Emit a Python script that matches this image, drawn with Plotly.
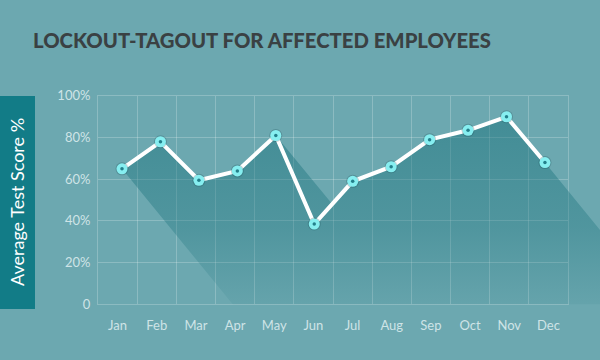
import numpy as np
import plotly.graph_objects as go

# ---------------- data ----------------
months = ["Jan", "Feb", "Mar", "Apr", "May", "Jun", "Jul", "Aug", "Sep", "Oct", "Nov", "Dec"]
scores = [65, 78, 59.5, 64, 81, 38.5, 59, 66, 79, 83.5, 90, 68]
y_tick_vals = [0, 20, 40, 60, 80, 100]
y_tick_text = ["0", "20%", "40%", "60%", "80%", "100%"]
title_text = "LOCKOUT-TAGOUT FOR AFFECTED EMPLOYEES"
y_title = "Average Test Score %"

# ---------------- geometry / style ----------------
W, H = 600, 360
PLOT_L, PLOT_R_GRID, PLOT_T, PLOT_B = 98, 568, 92, 310
FIRST_PX, STEP_PX = 122, 38.45          # placement of the data subplot's x axis
SHADOW_SLOPE = 1.28                      # long-shadow direction (px down per px right)

BG = "#6ca8b0"
GRID = "rgba(255,255,255,0.22)"
TICK_COLOR = "rgba(225,240,242,0.85)"
FONT = "Lato"

n = len(months)
ydom = [1 - PLOT_B / H, 1 - PLOT_T / H]

x2_lo = (PLOT_L - FIRST_PX) / STEP_PX
x2_hi = (W - FIRST_PX) / STEP_PX
y_lo, y_hi = 0, 100
ypx_per = (PLOT_B - PLOT_T) / (y_hi - y_lo)


def to_px(x, y):
    return FIRST_PX + np.asarray(x) * STEP_PX, PLOT_B - (np.asarray(y) - y_lo) * ypx_per


def to_data(px, py):
    return (np.asarray(px) - FIRST_PX) / STEP_PX, y_lo + (PLOT_B - np.asarray(py)) / ypx_per


# ---- long shadow: union of the polyline swept along the shadow direction ----
xi = np.arange(n, dtype=float)
px, py = to_px(xi, scores)
u = px - py / SHADOW_SLOPE
u_grid = np.union1d(np.linspace(u.min(), u.max(), 1500), u)
v_env = np.full(u_grid.shape, np.inf)
for k in range(n - 1):
    u0, u1, v0, v1 = u[k], u[k + 1], py[k], py[k + 1]
    lo, hi = min(u0, u1), max(u0, u1)
    m = (u_grid >= lo - 1e-9) & (u_grid <= hi + 1e-9)
    if hi - lo < 1e-9:
        v_env[m] = np.minimum(v_env[m], min(v0, v1))
    else:
        t = (u_grid[m] - u0) / (u1 - u0)
        v_env[m] = np.minimum(v_env[m], v0 + t * (v1 - v0))
env_px = u_grid + v_env / SHADOW_SLOPE
env_py = v_env
far = 400
poly_px = np.concatenate([[env_px[0] + far], env_px, [env_px[-1] + far]])
poly_py = np.concatenate([[env_py[0] + far * SHADOW_SLOPE], env_py, [env_py[-1] + far * SHADOW_SLOPE]])
sx, sy = to_data(poly_px, poly_py)

fig = go.Figure()

# invisible trace to anchor the grid subplot
fig.add_trace(go.Scatter(x=[0], y=[0], xaxis="x", yaxis="y", mode="markers",
                         marker=dict(size=1, opacity=0), showlegend=False, hoverinfo="skip"))

# shadow / area
fig.add_trace(go.Scatter(
    x=sx, y=sy, xaxis="x2", yaxis="y2", mode="lines", fill="toself",
    line=dict(width=0, color="rgba(0,0,0,0)"),
    fillgradient=dict(type="vertical", start=0, stop=100,
                      colorscale=[[0, "rgba(20,110,120,0.05)"],
                                  [0.4, "rgba(20,110,120,0.32)"],
                                  [1, "rgba(20,110,120,0.50)"]]),
    hoverinfo="skip", showlegend=False))

fig.add_trace(go.Scatter(
    x=xi, y=scores, xaxis="x2", yaxis="y2", mode="lines",
    line=dict(color="white", width=4), showlegend=False, hoverinfo="skip"))
fig.add_trace(go.Scatter(
    x=xi, y=scores, xaxis="x2", yaxis="y2", mode="markers",
    marker=dict(size=13, color="rgba(20,70,80,0.25)", line=dict(width=0)),
    showlegend=False, hoverinfo="skip"))
fig.add_trace(go.Scatter(
    x=xi, y=scores, xaxis="x2", yaxis="y2", mode="markers",
    marker=dict(size=11, color="#86eef0", line=dict(width=0)),
    showlegend=False, hoverinfo="skip"))
fig.add_trace(go.Scatter(
    x=xi, y=scores, xaxis="x2", yaxis="y2", mode="markers",
    marker=dict(size=3.5, color="#23808b", line=dict(width=0)),
    showlegend=False, hoverinfo="skip"))

minor_vals = [i - 0.5 for i in range(n + 1)]

fig.update_layout(
    width=W, height=H, autosize=False,
    margin=dict(l=0, r=0, t=0, b=0),
    paper_bgcolor=BG, plot_bgcolor="rgba(0,0,0,0)",
    font=dict(family=FONT, color=TICK_COLOR, size=13),
    xaxis=dict(
        domain=[PLOT_L / W, PLOT_R_GRID / W], range=[-0.5, n - 0.5], anchor="y",
        tickmode="array", tickvals=list(range(n)), ticktext=months,
        showgrid=False, zeroline=False,
        ticks="outside", ticklen=9, tickcolor="rgba(0,0,0,0)",
        showline=True, mirror=True, linecolor=GRID, linewidth=1,
        minor=dict(tickmode="array", tickvals=minor_vals, showgrid=True,
                   gridcolor=GRID, gridwidth=1, ticks=""),
        tickfont=dict(size=13, color=TICK_COLOR, family=FONT),
        fixedrange=True,
    ),
    yaxis=dict(
        domain=ydom, range=[y_lo, y_hi], anchor="x",
        tickmode="array", tickvals=y_tick_vals, ticktext=y_tick_text,
        showgrid=True, gridcolor=GRID, gridwidth=1, zeroline=False,
        ticks="outside", ticklen=4, tickcolor="rgba(0,0,0,0)",
        showline=True, mirror=True, linecolor=GRID, linewidth=1,
        tickfont=dict(size=13, color=TICK_COLOR, family=FONT),
        fixedrange=True,
    ),
    xaxis2=dict(domain=[PLOT_L / W, 1.0], range=[x2_lo, x2_hi], anchor="y2",
                visible=False, showgrid=False, zeroline=False, fixedrange=True),
    yaxis2=dict(domain=ydom, range=[y_lo, y_hi], anchor="x2",
                visible=False, showgrid=False, zeroline=False, fixedrange=True),
    shapes=[dict(type="rect", xref="paper", yref="paper", x0=0, x1=35 / W,
                 y0=1 - 315 / H, y1=1 - 92 / H, fillcolor="#127c87",
                 line=dict(width=0), layer="below")],
    annotations=[
        dict(text=y_title, xref="paper", yref="paper", x=17.5 / W, y=1 - 203.5 / H,
             textangle=-90, showarrow=False, xanchor="center", yanchor="middle",
             font=dict(family=FONT, size=18, color="white")),
        dict(text=title_text, xref="paper", yref="paper",
             x=262 / W, y=1 - 33 / H, showarrow=False, xanchor="center",
             yanchor="middle",
             font=dict(family=FONT, size=20.3, color="#3a4143", weight=900)),
    ],
)

fig.write_html("out.html", config={"displayModeBar": False},
               post_script="document.body.style.margin='0';")
